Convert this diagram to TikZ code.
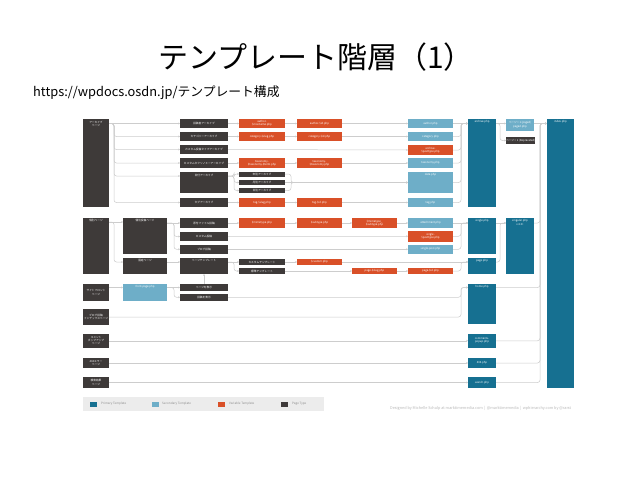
\documentclass[tikz,border=0pt]{standalone}
\usepackage{fontspec}
\setmainfont{Noto Sans CJK JP}
\usetikzlibrary{arrows.meta,backgrounds}
\definecolor{cDk}{RGB}{62,58,57}
\definecolor{cPr}{RGB}{22,112,145}
\definecolor{cSc}{RGB}{110,174,200}
\definecolor{cVr}{RGB}{217,80,40}
\definecolor{cLn}{RGB}{205,205,205}
\definecolor{cLg}{RGB}{236,236,236}
\newcommand\tf{\fontsize{2.7}{3.2}\selectfont}
\tikzset{
  bxs/.style={inner sep=0pt, outer sep=0pt, anchor=north west, text=white, align=center, font=\tf},
  dk/.style={bxs, fill=cDk},
  pr/.style={bxs, fill=cPr},
  sc/.style={bxs, fill=cSc},
  vr/.style={bxs, fill=cVr},
  lbl/.style={inner sep=0pt, text=white, align=center, font=\tf},
  conn/.style={draw=cLn, line width=0.5pt, rounded corners=2.5pt, -{Stealth[length=1.8pt,width=1.8pt]}},
  legtxt/.style={anchor=west, inner sep=0pt, text=black!45, font=\fontsize{3}{3.5}\selectfont},
  legsq/.style={inner sep=0pt, anchor=north west, minimum width=7pt, minimum height=5pt}
}
\newcommand\bx[7]{\node[#2,minimum width={(#5-#3)*1pt},minimum height={(#6-#4)*1pt}] (#1) at (#3,#4) {#7};}
\newcommand\bxt[7]{\node[#2,minimum width={(#5-#3)*1pt},minimum height={(#6-#4)*1pt},label={[lbl,anchor=north,yshift=-1.5pt]north:#7}] (#1) at (#3,#4) {};}
\begin{document}
\begin{tikzpicture}[x=1pt,y=-1pt]
\useasboundingbox (0,0) rectangle (638,479);
% title
\node[inner sep=0pt, font=\fontsize{30}{31}\selectfont] (title) at (316,57) {テンプレート階層（1）};
\node[anchor=west, inner sep=0pt, font=\fontsize{12.8}{13}\selectfont] (url) at (33,93) {https://wpdocs.osdn.jp/テンプレート構成};
% page types
\bxt{A1}{dk}{83}{119}{109}{207}{アーカイブ\\ページ}
\bxt{A2}{dk}{83}{218}{109}{274}{個別ページ}
\bx{A3}{dk}{83}{284}{109}{301}{サイトフロント\\ページ}
\bx{A4}{dk}{83}{309}{109}{325}{ブログ投稿\\インデックスページ}
\bx{A5}{dk}{83}{333.5}{109}{348}{コメント\\ポップアップ\\ページ}
\bx{A6}{dk}{83}{358}{109}{368}{404エラー\\ページ}
\bx{A7}{dk}{83}{377}{109}{388}{検索結果\\ページ}
% singular sub
\bxt{B1}{dk}{123}{218}{167}{254}{個別投稿ページ}
\bxt{B2}{dk}{123}{258}{167}{274}{固定ページ}
\bxt{F1}{sc}{123}{284}{167}{301}{front-page.php}
% column C
\bx{C1}{dk}{180}{119}{228}{128}{投稿者アーカイブ}
\bx{C2}{dk}{180}{132}{228}{141}{カテゴリーアーカイブ}
\bx{C3}{dk}{180}{145}{228}{154}{カスタム投稿タイプアーカイブ}
\bx{C4}{dk}{180}{158}{228}{168}{カスタムタクソノミーアーカイブ}
\bxt{C5}{dk}{180}{172}{228}{193}{日付アーカイブ}
\bx{C6}{dk}{180}{198}{228}{207}{タグアーカイブ}
\bx{C7}{dk}{180}{218}{228}{228}{添付ファイル投稿}
\bx{C8}{dk}{180}{232}{228}{241}{カスタム投稿}
\bx{C9}{dk}{180}{244.5}{228}{254}{ブログ投稿}
\bxt{C10}{dk}{180}{258}{228}{274}{ページテンプレート}
\bx{C11}{dk}{180}{284}{228}{291}{ページを表示}
\bx{C12}{dk}{180}{293.5}{228}{301}{投稿を表示}
% column D
\bx{D1}{vr}{239}{119}{285}{128}{author-\\\$nicename.php}
\bx{D2}{vr}{239}{132}{285}{141}{category-\$slug.php}
\bx{D4}{vr}{239}{158}{285}{168}{taxonomy-\\\$taxonomy-\$term.php}
\bx{D5a}{dk}{239}{171.5}{285}{176.5}{年別アーカイブ}
\bx{D5b}{dk}{239}{180}{285}{185}{月別アーカイブ}
\bx{D5c}{dk}{239}{188}{285}{193}{日別アーカイブ}
\bx{D6}{vr}{239}{198}{285}{207}{tag-\$slug.php}
\bx{D7}{vr}{239}{218}{285}{228}{\$mimetype.php}
\bx{D10a}{dk}{239}{259}{285}{265}{カスタムテンプレート}
\bx{D10b}{dk}{239}{268}{285}{274}{標準テンプレート}
% column E
\bx{E1}{vr}{297}{119}{342}{128}{author-\$id.php}
\bx{E2}{vr}{297}{132}{342}{141}{category-\$id.php}
\bx{E4}{vr}{297}{158}{342}{168}{taxonomy-\\\$taxonomy.php}
\bx{E6}{vr}{297}{198}{342}{207}{tag-\$id.php}
\bx{E7}{vr}{297}{218}{342}{228}{\$subtype.php}
\bx{E10}{vr}{297}{259}{342}{265}{\$custom.php}
% column F
\bx{F7}{vr}{352}{218}{397}{228}{\$mimetype\_\\\$subtype.php}
\bx{F10}{vr}{352}{268}{397}{274}{page-\$slug.php}
% column G
\bx{G1}{sc}{408}{119}{453}{128}{author.php}
\bx{G2}{sc}{408}{132}{453}{141}{category.php}
\bx{G3}{vr}{408}{145}{453}{155}{archive-\\\$posttype.php}
\bx{G4}{sc}{408}{158}{453}{168}{taxonomy.php}
\bxt{G5}{sc}{408}{172}{453}{193}{date.php}
\bx{G6}{sc}{408}{198}{453}{207}{tag.php}
\bx{G7}{sc}{408}{218}{453}{228}{attachment.php}
\bx{G8}{vr}{408}{231}{453}{241.5}{single-\\\$posttype.php}
\bx{G9}{sc}{408}{244.5}{453}{254}{single-post.php}
\bx{G10}{vr}{408}{268}{453}{274}{page-\$id.php}
% column H (primary)
\bxt{H1}{pr}{468}{119}{496}{207}{archive.php}
\bxt{H2}{pr}{468}{218}{496}{254}{single.php}
\bxt{H3}{pr}{468}{258}{496}{274}{page.php}
\bxt{H4}{pr}{468}{284}{496}{324}{home.php}
\bx{H5}{pr}{468}{333.5}{496}{348}{comments-\\popup.php}
\bx{H6}{pr}{468}{358}{496}{368}{404.php}
\bx{H7}{pr}{468}{377}{496}{388}{search.php}
% column I
\bx{I1}{sc}{506}{118.5}{534}{131}{ページ > 1 (paged)\\paged.php}
\bx{I2}{dk}{506}{137}{534}{144}{ページ > 1 (Deprecated)}
\bxt{I3}{pr}{506}{218}{534}{274}{singular.php\\v 4.3+}
% index
\bxt{J}{pr}{547}{118.5}{574}{388}{index.php}
% trunks
\coordinate (tA) at (114,0);
\coordinate (tB) at (174,0);
\coordinate (tD) at (234,0);
\coordinate (tDt) at (291,0);
\coordinate (tH) at (461,0);
\coordinate (tI) at (500,0);
\coordinate (tJ) at (540,0);
\coordinate (c5x) at ([yshift=-4pt]C5.north east);
\coordinate (c5in) at ([yshift=-4pt]C5.north west);
\coordinate (b1in) at ([yshift=-4pt]B1.north west);
\coordinate (b2in) at ([yshift=-4pt]B2.north west);
\coordinate (c10in) at ([yshift=-4pt]C10.north west);
% legend
\node[fill=cLg, inner sep=0pt, anchor=north west, minimum width=241pt, minimum height=14pt] (leg) at (83,397) {};
\node[legsq, fill=cPr] (lg1) at (90,401.5) {};
\node[legtxt] (lt1) at (101,404) {Primary Template};
\node[legsq, fill=cSc] (lg2) at (152,401.5) {};
\node[legtxt] (lt2) at (162,404) {Secondary Template};
\node[legsq, fill=cVr] (lg3) at (218,401.5) {};
\node[legtxt] (lt3) at (229,404) {Variable Template};
\node[legsq, fill=cDk] (lg4) at (281,401.5) {};
\node[legtxt] (lt4) at (292,404) {Page Type};
\node[anchor=west, inner sep=0pt, text=black!28, font=\fontsize{3.8}{4.5}\selectfont] (cred) at (390,408.5) {Designed by Michelle Schulp at marktimemedia.com \,|\, @marktimemedia \,|\, wphierarchy.com by @rarst};
% connectors
\begin{scope}[on background layer]
\fill[white] (0,0) rectangle (638,479);
% archive fan-out
\draw[conn] (A1.east|-C1.west) -- (C1.west);
\foreach \n in {C2,C3,C4,C6} \draw[conn] (A1.east|-C1.west) -- (tA|-C1.west) |- (\n.west);
\draw[conn] (A1.east|-C1.west) -- (tA|-C1.west) |- (c5in);
% archive rows
\draw[conn] (C1.east) -- (D1.west);
\draw[conn] (D1.east) -- (E1.west);
\draw[conn] (E1.east) -- (G1.west);
\draw[conn] (C2.east) -- (D2.west);
\draw[conn] (D2.east) -- (E2.west);
\draw[conn] (E2.east) -- (G2.west);
\draw[conn] (C3.east) -- (G3.west);
\draw[conn] (C4.east) -- (D4.west);
\draw[conn] (D4.east) -- (E4.west);
\draw[conn] (E4.east) -- (G4.west);
\draw[conn] (c5x) -- (tD|-c5x) |- (D5a.west);
\draw[conn] (c5x) -- (tD|-c5x) |- (D5b.west);
\draw[conn] (c5x) -- (tD|-c5x) |- (D5c.west);
\draw[conn] (D5a.east) -- (tDt|-D5a.east) |- (G5.west);
\draw[conn] (D5b.east) -- (G5.west|-D5b.east);
\draw[conn] (D5c.east) -- (tDt|-D5c.east) |- (G5.west);
\draw[conn] (C6.east) -- (D6.west);
\draw[conn] (D6.east) -- (E6.west);
\draw[conn] (E6.east) -- (G6.west);
\draw[conn] (G1.east) -- (H1.west|-G1.east);
\foreach \n in {G2,G3,G4,G5,G6} \draw[conn] (\n.east) -- (tH|-\n.east) |- (H1.west|-G1.east);
% archive.php onward
\draw[conn] (H1.east|-G1.east) -- (I1.west|-G1.east);
\draw[conn] (H1.east|-G1.east) -- (tI|-G1.east) |- (I2.west);
\draw[conn] (I1.east|-G1.east) -- (J.west|-G1.east);
% singular
\draw[conn] (A2.east|-b1in) -- (b1in);
\draw[conn] (A2.east|-b1in) -- (tA|-b1in) |- (b2in);
\draw[conn] (B1.east|-C7.west) -- (C7.west);
\draw[conn] (B1.east|-C7.west) -- (tB|-C7.west) |- (C8.west);
\draw[conn] (B1.east|-C7.west) -- (tB|-C7.west) |- (C9.west);
\draw[conn] (B2.east|-c10in) -- (c10in);
\draw[conn] (C7.east) -- (D7.west);
\draw[conn] (D7.east) -- (E7.west);
\draw[conn] (E7.east) -- (F7.west);
\draw[conn] (F7.east) -- (G7.west);
\draw[conn] (G7.east) -- (H2.west|-G7.east);
\draw[conn] (C8.east) -- (G8.west);
\draw[conn] (G8.east) -- (tH|-G8.east) |- (H2.west|-G7.east);
\draw[conn] (C9.east) -- (G9.west);
\draw[conn] (G9.east) -- (tH|-G9.east) |- (H2.west|-G7.east);
\draw[conn] (C10.east|-c10in) -- (D10a.west);
\draw[conn] (C10.east|-c10in) -- (tD|-c10in) |- (D10b.west);
\draw[conn] (D10a.east) -- (E10.west);
\draw[conn] (E10.east) -- (H3.west|-E10.east);
\draw[conn] (D10b.east) -- (F10.west);
\draw[conn] (F10.east) -- (G10.west);
\draw[conn] (G10.east) -- (tH|-G10.east) |- (H3.west|-E10.east);
\draw[conn] (H2.east|-G7.east) -- (I3.west|-G7.east);
\draw[conn] (H3.east|-E10.east) -- (tI|-E10.east) |- (I3.west|-G7.east);
\draw[conn] (I3.east|-G7.east) -- (tJ|-G7.east) |- (J.west|-G1.east);
% front page
\draw[conn] (A3.east|-C11.west) -- (F1.west|-C11.west);
\draw[conn] (F1.east|-C11.west) -- (C11.west);
\draw[conn] (F1.east|-C11.west) -- (tB|-C11.west) |- (C12.west);
\draw[conn] (C11.north) -- (C10.south);
\draw[conn] (C12.east) -- (tH|-C12.east) |- (H4.west|-C11.west);
\draw[conn] (A4.east) -- (tH|-A4.east) |- (H4.west|-C11.west);
\draw[conn] (A5.east) -- (H5.west);
\draw[conn] (A6.east) -- (H6.west);
\draw[conn] (A7.east) -- (H7.west);
\draw[conn] (H4.east|-C11.west) -- (tJ|-C11.west) |- (J.west|-G1.east);
\foreach \n in {H5,H6,H7} \draw[conn] (\n.east) -- (tJ|-\n.east) |- (J.west|-G1.east);
\end{scope}
\end{tikzpicture}
\end{document}
